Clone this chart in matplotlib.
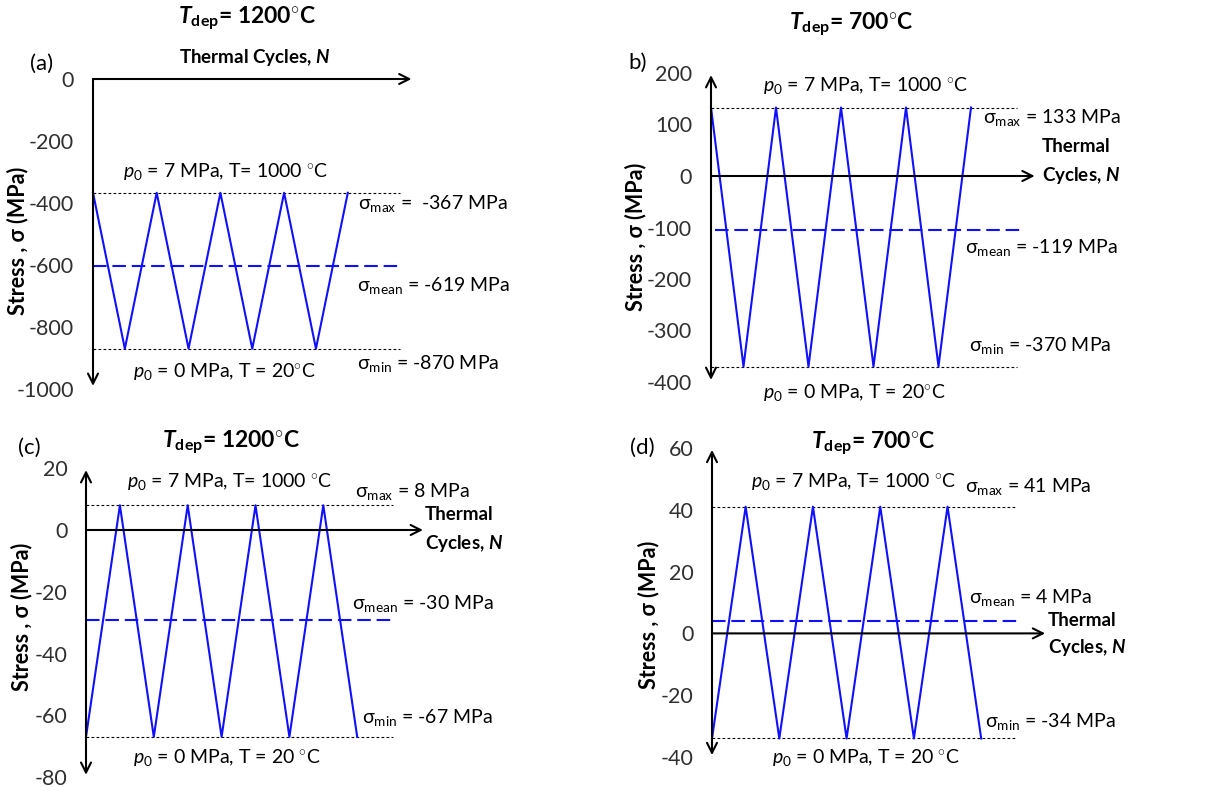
import matplotlib
matplotlib.use('Agg')
import matplotlib.pyplot as plt

plt.rcParams['font.family'] = ['Lato', 'DejaVu Sans']
plt.rcParams['mathtext.fontset'] = 'custom'
plt.rcParams['mathtext.rm'] = 'Lato'
plt.rcParams['mathtext.it'] = 'Lato:italic'
plt.rcParams['mathtext.bf'] = 'Lato:bold'
plt.rcParams['mathtext.bfit'] = 'Lato:italic:bold'

# ---------------- data ----------------
panel_letters = ['(a)', 'b)', '(c)', '(d)']
T_dep = [1200, 700, 1200, 700]
cycles = [0, 0.5, 1, 1.5, 2, 2.5, 3, 3.5, 4]
stress_a = [-367, -870, -367, -870, -367, -870, -367, -870, -367]
stress_b = [133, -370, 133, -370, 133, -370, 133, -370, 133]
stress_c = [-67, 8, -67, 8, -67, 8, -67, 8, -67]
stress_d = [-34, 41, -34, 41, -34, 41, -34, 41, -34]
sigma_max = [-367, 133, 8, 41]
sigma_min = [-870, -370, -67, -34]
sigma_mean = [-619, -119, -30, 4]          # labelled values
mean_line = [-603, -105, -29, 4]           # where the dashed line is drawn
yticks_a = [0, -200, -400, -600, -800, -1000]
yticks_b = [200, 100, 0, -100, -200, -300, -400]
yticks_c = [20, 0, -20, -40, -60, -80]
yticks_d = [60, 40, 20, 0, -20, -40]
DEG = '$^{\\circ}$'
hot_labels = ['$\\mathit{p}_{0}$ = 7 MPa, T= 1000 ' + DEG + 'C'] * 4
cold_labels = ['$\\mathit{p}_{0}$ = 0 MPa, T = 20' + DEG + 'C',
               '$\\mathit{p}_{0}$ = 0 MPa, T = 20' + DEG + 'C',
               '$\\mathit{p}_{0}$ = 0 MPa, T = 20 ' + DEG + 'C',
               '$\\mathit{p}_{0}$ = 0 MPa, T = 20 ' + DEG + 'C']
max_sep = ['=  ', '= ', '= ', '= ']

stresses = [stress_a, stress_b, stress_c, stress_d]
yticks = [yticks_a, yticks_b, yticks_c, yticks_d]

# ---------------- layout ----------------
W, H = 1207, 787
fig = plt.figure(figsize=(W / 100, H / 100), dpi=100)

def P(x, y):
    return (x / W, 1 - y / H)

layout = [
    dict(x0=93, sx=63.7, yref=((79, 0), (389, -1000)), T=70, B=400, R=420,
         vaxis=(0, -990), vstyle='->', htip=5.0, dot_end=4.82, dash=(0, 4.82)),
    dict(x0=711, sx=65.0, yref=((176, 0), (382, -400)), T=65, B=395, R=1040,
         vaxis=(196, -396), vstyle='<->', htip=4.98, dot_end=4.71, dash=(0.06, 4.77)),
    dict(x0=86, sx=67.8, yref=((530, 0), (777, -80)), T=460, B=785, R=430,
         vaxis=(19.4, -79.3), vstyle='<->', htip=4.97, dot_end=4.53, dash=(0, 4.56)),
    dict(x0=712, sx=67.3, yref=((448, 60), (757, -40)), T=440, B=785, R=1050,
         vaxis=(59.4, -39.4), vstyle='<->', htip=4.95, dot_end=4.53, dash=(0, 4.56)),
]

texts = [
    dict(letter=(30, 64), title=(247, 18), therm=[(255, 58, 'center')],
         hot=(123, 172), smax=(358, 204), smean=(357, 286), smin=(357, 363),
         cold=(133, 372), ylab=(18, 241)),
    dict(letter=(628, 63), title=(851, 24), therm=[(1042, 147, 'left'), (1042, 175, 'left')],
         hot=(763, 86), smax=(983, 117), smean=(965, 248), smin=(969, 345),
         cold=(763, 392), ylab=(636, 237)),
    dict(letter=(18, 448), title=(231, 442), therm=[(425, 515, 'left'), (425, 543, 'left')],
         hot=(127, 482), smax=(355, 491), smean=(352, 603), smin=(362, 717),
         cold=(133, 757), ylab=(22, 617)),
    dict(letter=(630, 448), title=(873, 443), therm=[(1048, 620, 'left'), (1048, 647, 'left')],
         hot=(751, 481), smax=(965, 487), smean=(969, 598), smin=(985, 721),
         cold=(772, 757), ylab=(649, 615)),
]

BLUE = '#1010ff'
FS = 14        # annotation labels
FS_TICK = 15.5
FS_AX = 15.5   # Stress label
FS_TH = 13.5   # Thermal Cycles
FS_TITLE = 16.5

for i in range(4):
    lay = layout[i]
    tx = texts[i]
    L, R, T, B = lay['x0'], lay['R'], lay['T'], lay['B']
    sx = lay['sx']
    xlim = (0, (R - L) / sx)
    (py1, v1), (py2, v2) = lay['yref']
    sy = (v2 - v1) / (py2 - py1)
    ylim = (v1 + (B - py1) * sy, v1 + (T - py1) * sy)
    ax = fig.add_axes([L / W, 1 - B / H, (R - L) / W, (B - T) / H])
    ax.set_xlim(xlim)
    ax.set_ylim(ylim)
    ax.patch.set_visible(False)
    for s in ax.spines.values():
        s.set_visible(False)
    ax.set_xticks([])
    ax.set_yticks(yticks[i])
    ax.set_yticklabels([str(v) for v in yticks[i]])
    ax.tick_params(axis='y', length=0, pad=13.5, labelsize=FS_TICK, labelcolor='#303030')

    # axes arrows
    ax.annotate('', xy=(0, lay['vaxis'][1]), xytext=(0, lay['vaxis'][0]),
                arrowprops=dict(arrowstyle=lay['vstyle'], lw=1.5, color='black',
                                mutation_scale=18, shrinkA=0, shrinkB=0),
                annotation_clip=False)
    ax.annotate('', xy=(lay['htip'], 0), xytext=(0, 0),
                arrowprops=dict(arrowstyle='->', lw=1.5, color='black',
                                mutation_scale=18, shrinkA=0, shrinkB=0),
                annotation_clip=False)

    # dotted bounds
    for v in (sigma_max[i], sigma_min[i]):
        ax.plot([0, lay['dot_end']], [v, v], color='black', lw=0.8,
                linestyle=(0, (2.5, 2)), clip_on=False)
    # mean dashed
    ax.plot(list(lay['dash']), [mean_line[i], mean_line[i]], color=BLUE, lw=1.5,
            dashes=(6.5, 2.8), clip_on=False)
    # triangle wave
    ax.plot(cycles, stresses[i], color=BLUE, lw=1.5, clip_on=False)

    # texts
    fig.text(*P(*tx['letter']), panel_letters[i], fontsize=16, ha='left', va='center')
    fig.text(*P(*tx['title']),
             '$\\mathbfit{T}_{\\mathbf{dep}}$= %d$^{\\circ}$C' % T_dep[i],
             fontsize=FS_TITLE, fontweight='bold', ha='center', va='center')
    if len(tx['therm']) == 1:
        x, y, ha = tx['therm'][0]
        fig.text(*P(x, y), 'Thermal Cycles, $\\mathbfit{N}$', fontsize=FS_TH,
                 fontweight='bold', ha=ha, va='center')
    else:
        x, y, ha = tx['therm'][0]
        fig.text(*P(x, y), 'Thermal', fontsize=FS_TH, fontweight='bold', ha=ha, va='center')
        x, y, ha = tx['therm'][1]
        fig.text(*P(x, y), 'Cycles, $\\mathbfit{N}$', fontsize=FS_TH, fontweight='bold',
                 ha=ha, va='center')
    fig.text(*P(*tx['hot']), hot_labels[i], fontsize=FS, ha='left', va='center')
    fig.text(*P(*tx['cold']), cold_labels[i], fontsize=FS, ha='left', va='center')
    fig.text(*P(*tx['smax']), '\u03c3$_{\\mathrm{max}}$ %s%d MPa' % (max_sep[i], sigma_max[i]),
             fontsize=FS, ha='left', va='center')
    fig.text(*P(*tx['smean']), '\u03c3$_{\\mathrm{mean}}$ = %d MPa' % sigma_mean[i],
             fontsize=FS, ha='left', va='center')
    fig.text(*P(*tx['smin']), '\u03c3$_{\\mathrm{min}}$ = %d MPa' % sigma_min[i],
             fontsize=FS, ha='left', va='center')
    fig.text(*P(*tx['ylab']), 'Stress , \u03c3 (MPa)', fontsize=FS_AX, fontweight='bold',
             rotation=90, ha='center', va='center')

fig.savefig('out.png', dpi=100)
